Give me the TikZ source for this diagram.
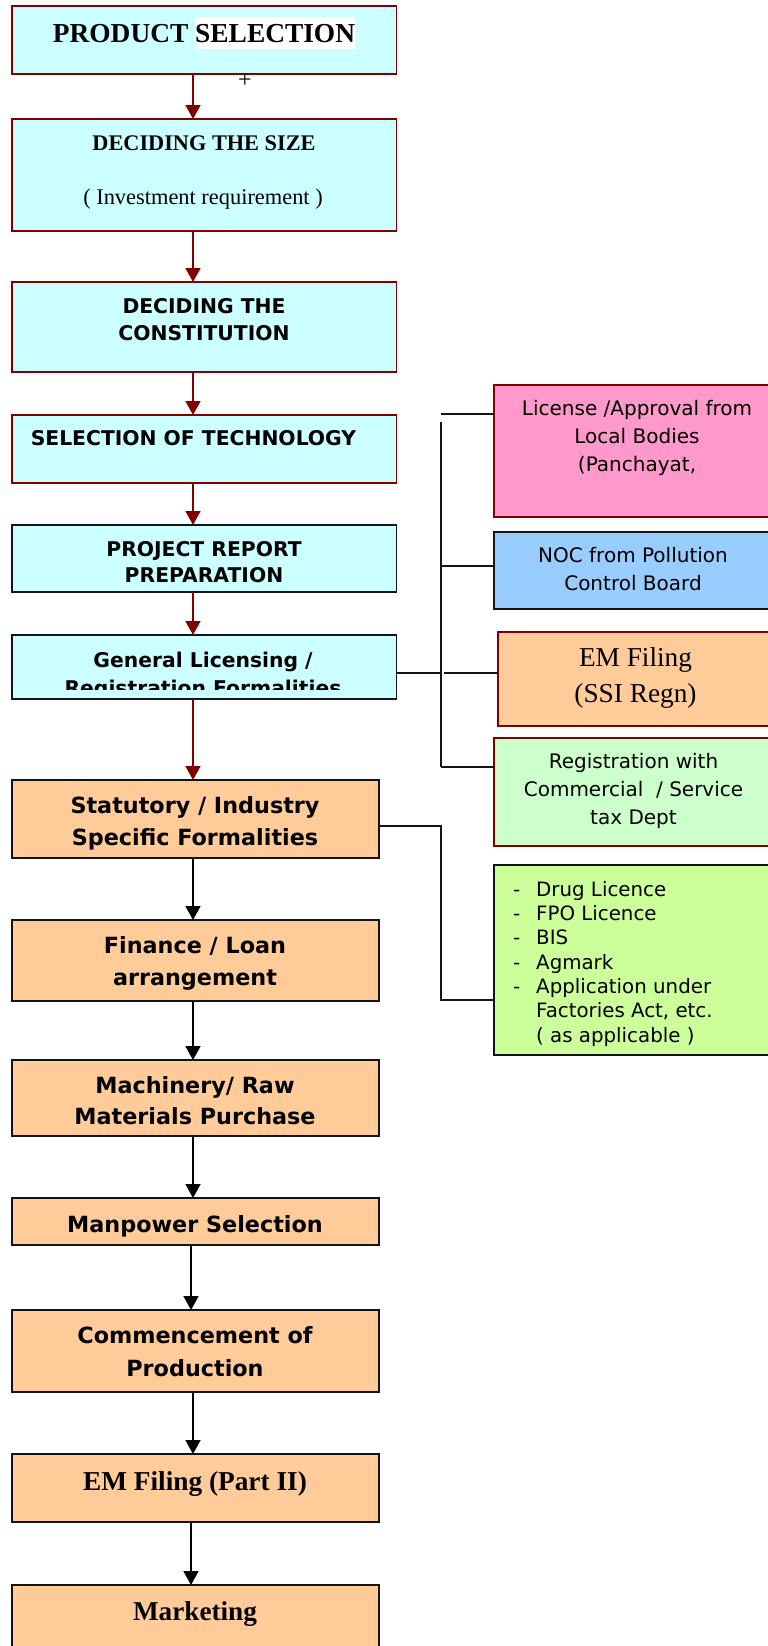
\documentclass[tikz,border=0pt]{standalone}
\usepackage{fontspec}
\setmainfont{Liberation Serif}
\newfontfamily\dvs{DejaVu Sans}
\usetikzlibrary{arrows.meta}
\definecolor{dred}{RGB}{128,0,0}
\definecolor{cyanf}{RGB}{204,255,255}
\definecolor{orf}{RGB}{255,204,153}
\definecolor{pinkf}{RGB}{255,153,204}
\definecolor{bluef}{RGB}{153,204,255}
\definecolor{greenf}{RGB}{204,255,204}
\definecolor{limef}{RGB}{204,255,153}
\definecolor{lnc}{RGB}{20,20,20}
\begin{document}
\begin{tikzpicture}[x=1pt,y=-1pt,
  box/.style={draw, line width=1.8pt, anchor=north west, inner sep=0pt, outer sep=0pt},
  cbox/.style={box, fill=cyanf, minimum width=384.5},
  obox/.style={box, fill=orf, draw=lnc, minimum width=367},
  txt/.style={anchor=base, inner sep=0pt},
  tbig/.style={txt, font=\fontsize{27.4}{30}\selectfont\bfseries},
  tbs/.style={txt, font=\fontsize{22.3}{26}\selectfont\bfseries},
  trs/.style={txt, font=\fontsize{22.4}{26}\selectfont},
  trl/.style={txt, font=\fontsize{27.3}{30}\selectfont},
  sb/.style={txt, font=\dvs\fontsize{20.3}{24}\selectfont\bfseries},
  sbo/.style={txt, font=\dvs\fontsize{22.3}{26}\selectfont\bfseries},
  sr/.style={txt, font=\dvs\fontsize{20}{24}\selectfont},
  srd/.style={txt, anchor=base west, font=\dvs\fontsize{19.8}{24}\selectfont},
  rarr/.style={draw=dred, line width=1.8pt, -{Triangle[width=15pt,length=14pt]}, color=dred},
  barr/.style={draw=black, line width=1.8pt, -{Triangle[width=15pt,length=14pt]}},
  conn/.style={draw=lnc, line width=1.6pt}
]
\useasboundingbox (0,0) rectangle (768,1646);

% left column boxes
\node[cbox, draw=dred, minimum height=68] (prod) at (12,6) {};
\node[cbox, draw=dred, minimum height=112] (size) at (12,119) {};
\node[cbox, draw=dred, minimum height=90] (const) at (12,282) {};
\node[cbox, draw=dred, minimum height=68] (tech) at (12,415) {};
\node[cbox, draw=lnc, minimum height=67] (proj) at (12,525) {};
\node[cbox, draw=lnc, minimum height=64] (gen) at (12,635) {};
\node[obox, minimum height=78] (stat) at (12,780) {};
\node[obox, minimum height=81] (fin) at (12,920) {};
\node[obox, minimum height=76] (mach) at (12,1060) {};
\node[obox, minimum height=47] (man) at (12,1198) {};
\node[obox, minimum height=82] (comm) at (12,1310) {};
\node[obox, minimum height=68] (emf) at (12,1454) {};
\node[obox, minimum height=80] (mkt) at (12,1585) {};

% right column boxes
\node[box, draw=dred, fill=pinkf, minimum width=287, minimum height=132] (lic) at (494,385) {};
\node[box, draw=lnc, fill=bluef, minimum width=287, minimum height=77] (noc) at (494,532) {};
\node[box, draw=dred, fill=orf, minimum width=283, minimum height=94] (emr) at (498,632) {};
\node[box, draw=dred, fill=greenf, minimum width=287, minimum height=108] (reg) at (494,738) {};
\node[box, draw=lnc, fill=limef, minimum width=287, minimum height=190] (drug) at (494,865) {};

% left texts
\node[tbig] (t1) at (204,43) {PRODUCT {\setlength{\fboxsep}{0pt}\colorbox{white}{\rule[-6pt]{0pt}{32pt}SELECTION}}};
\node[txt, font=\fontsize{24}{28}\selectfont] (plus) at (245,88) {+};
\node[tbs] (t2a) at (204,150) {DECIDING THE SIZE};
\node[trs] (t2b) at (203,204) {( Investment requirement )};
\node[sb] (t3a) at (204,313) {DECIDING THE};
\node[sb] (t3b) at (204,340) {CONSTITUTION};
\node[sb] (t4) at (193.5,445) {SELECTION OF TECHNOLOGY};
\node[sb] (t5a) at (204,556) {PROJECT REPORT};
\node[sb] (t5b) at (204,582) {PREPARATION};
\begin{scope}
\clip (12,635) rectangle (396,689);
\node[sb] (t6a) at (203,667) {General Licensing /};
\node[sb] (t6b) at (203,695) {Registration Formalities};
\end{scope}
\node[sbo] (t7a) at (195,813) {Statutory / Industry};
\node[sbo] (t7b) at (195,845) {Specific Formalities};
\node[sbo] (t8a) at (195,953) {Finance / Loan};
\node[sbo] (t8b) at (195,985) {arrangement};
\node[sbo] (t9a) at (195,1093) {Machinery/ Raw};
\node[sbo] (t9b) at (195,1124) {Materials Purchase};
\node[sbo] (t10) at (195,1232) {Manpower Selection};
\node[sbo] (t11a) at (195,1343) {Commencement of};
\node[sbo] (t11b) at (195,1376) {Production};
\node[tbig, font=\fontsize{27.3}{30}\selectfont\bfseries] (t12) at (195,1490) {EM Filing (Part II)};
\node[tbig, font=\fontsize{27.2}{30}\selectfont\bfseries] (t13) at (195,1620) {Marketing};

% right texts
\node[sr] (r1a) at (637,415) {License /Approval from};
\node[sr] (r1b) at (637,443) {Local Bodies};
\node[sr] (r1c) at (637,471) {(Panchayat,};
\node[sr] (r2a) at (633,562) {NOC from Pollution};
\node[sr] (r2b) at (633,590) {Control Board};
\node[trl] (r3a) at (635.5,666) {EM Filing};
\node[trl] (r3b) at (635.5,702) {(SSI Regn)};
\node[sr] (r4a) at (633.5,768) {Registration with};
\node[sr] (r4b) at (633.5,796) {Commercial~ / Service};
\node[sr] (r4c) at (633.5,824) {tax Dept};
\foreach \i/\y in {1/896,2/920,3/944,4/969,5/993}{
  \node[srd] (d\i) at (513,\y) {-};
}
\node[srd] (e1) at (536,896) {Drug Licence};
\node[srd] (e2) at (536,920) {FPO Licence};
\node[srd] (e3) at (536,944) {BIS};
\node[srd] (e4) at (536,969) {Agmark};
\node[srd] (e5) at (536,993) {Application under};
\node[srd] (e6) at (536,1017) {Factories Act, etc.};
\node[srd] (e7) at (536,1042) {( as applicable )};

% arrows
\coordinate (ax) at (193,0);
\coordinate (bx) at (191,0);
\draw[rarr] (prod.south -| ax) -- (size.north -| ax);
\draw[rarr] (size.south -| ax) -- (const.north -| ax);
\draw[rarr] (const.south -| ax) -- (tech.north -| ax);
\draw[rarr] (tech.south -| ax) -- (proj.north -| ax);
\draw[rarr] (proj.south -| ax) -- (gen.north -| ax);
\draw[rarr] (gen.south -| ax) -- (stat.north -| ax);
\draw[barr] (stat.south -| ax) -- (fin.north -| ax);
\draw[barr] (fin.south -| ax) -- (mach.north -| ax);
\draw[barr] (mach.south -| ax) -- (man.north -| ax);
\draw[barr] (man.south -| bx) -- (comm.north -| bx);
\draw[barr] (comm.south -| ax) -- (emf.north -| ax);
\draw[barr] (emf.south -| bx) -- (mkt.north -| bx);

% right connectors
\coordinate (v1) at (441,422);
\coordinate (v2) at (441,767);
\coordinate (h1) at (441,414);
\coordinate (h2) at (441,566);
\coordinate (h3) at (441,673);
\coordinate (h3b) at (444,673);
\coordinate (s1) at (441,826);
\coordinate (s2) at (441,1000);
\draw[conn] (v1) -- (v2);
\draw[conn] (h1) -- (h1 -| lic.west);
\draw[conn] (h2) -- (h2 -| noc.west);
\draw[conn] (gen.east |- h3) -- (h3);
\draw[conn] (h3b) -- (h3b -| emr.west);
\draw[conn] (v2) -- (v2 -| reg.west);
\draw[conn] (stat.east |- s1) -- (s1) -- (s2) -- (s2 -| drug.west);
\end{tikzpicture}
\end{document}
